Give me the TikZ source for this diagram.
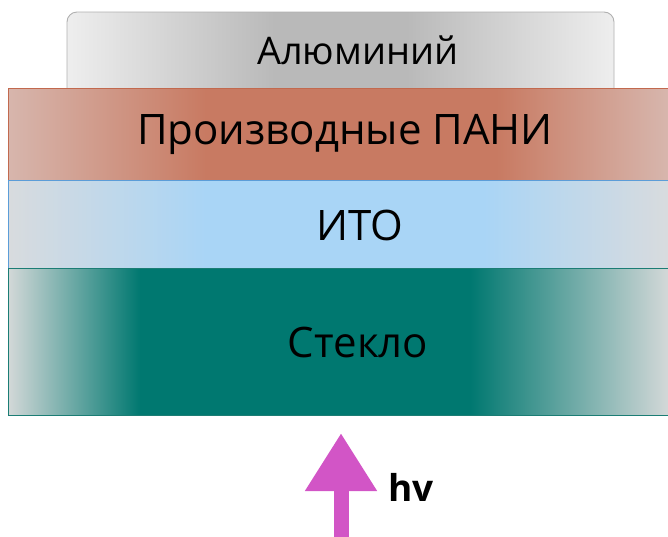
\documentclass[tikz,border=0pt]{standalone}
\usepackage{fontspec}
\setmainfont{Open Sans}
\usetikzlibrary{arrows.meta}

\definecolor{alumedge}{HTML}{EEEEEE}
\definecolor{alummid}{HTML}{B9B9B9}
\definecolor{alumline}{HTML}{B0B0B0}
\definecolor{paniedge}{HTML}{D7B6AD}
\definecolor{panimid}{HTML}{C87A62}
\definecolor{paniline}{HTML}{C2694E}
\definecolor{itoedge}{HTML}{D8DBDE}
\definecolor{itomid}{HTML}{A9D5F6}
\definecolor{itoline}{HTML}{5C9DD8}
\definecolor{glassedge}{HTML}{D3D8D8}
\definecolor{glassmid}{HTML}{007870}
\definecolor{glassline}{HTML}{1B7D74}
\definecolor{photon}{HTML}{D255C6}

\pgfdeclarehorizontalshading{alumshade}{100bp}{color(0bp)=(alumedge); color(25bp)=(alumedge); color(44bp)=(alummid); color(56bp)=(alummid); color(75bp)=(alumedge); color(100bp)=(alumedge)}
\pgfdeclarehorizontalshading{panishade}{100bp}{color(0bp)=(paniedge); color(25bp)=(paniedge); color(40bp)=(panimid); color(62bp)=(panimid); color(75bp)=(paniedge); color(100bp)=(paniedge)}
\pgfdeclarehorizontalshading{itoshade}{100bp}{color(0bp)=(itoedge); color(25bp)=(itoedge); color(40bp)=(itomid); color(61bp)=(itomid); color(75bp)=(itoedge); color(100bp)=(itoedge)}
\pgfdeclarehorizontalshading{glassshade}{100bp}{color(0bp)=(glassedge); color(25bp)=(glassedge); color(35bp)=(glassmid); color(60bp)=(glassmid); color(75bp)=(glassedge); color(100bp)=(glassedge)}

\tikzset{
  layertext/.style={font=\fontsize{42}{44}\selectfont, text=black},
  layerline/.style={line width=0.9pt},
}

\begin{document}
\begin{tikzpicture}[x=1pt, y=-1pt]
        \useasboundingbox (0,0) rectangle (668,536);

        \shade[shading=alumshade, draw=alumline, layerline, rounded corners=10pt] (67,88) -- (67,12) -- (614,12) -- (614,88);
        \node[layertext, font=\fontsize{38}{40}\selectfont] (alum) at (358,50) {Алюминий};

        \shade[shading=panishade, draw=paniline, layerline] (8,88) rectangle (668,180);
        \node[layertext] (pani) at (345,134) {Производные ПАНИ};

        \shade[shading=itoshade, draw=itoline, layerline] (8,180) rectangle (668,268);
        \node[layertext] (ito) at (360,225) {ИТО};

        \shade[shading=glassshade, draw=glassline, layerline] (8,268) rectangle (668,415);
        \node[layertext] (glass) at (358,342) {Стекло};

        \coordinate (source) at (341,540);
        \coordinate (target) at (341,433);
        \draw[-{Triangle[width=68pt, length=58pt]}, line width=15pt, photon] (source) -- (target);
        \node[font=\fontsize{37}{38}\selectfont\bfseries] (hv) at (411,487) {hv};
    \end{tikzpicture}
\end{document}
